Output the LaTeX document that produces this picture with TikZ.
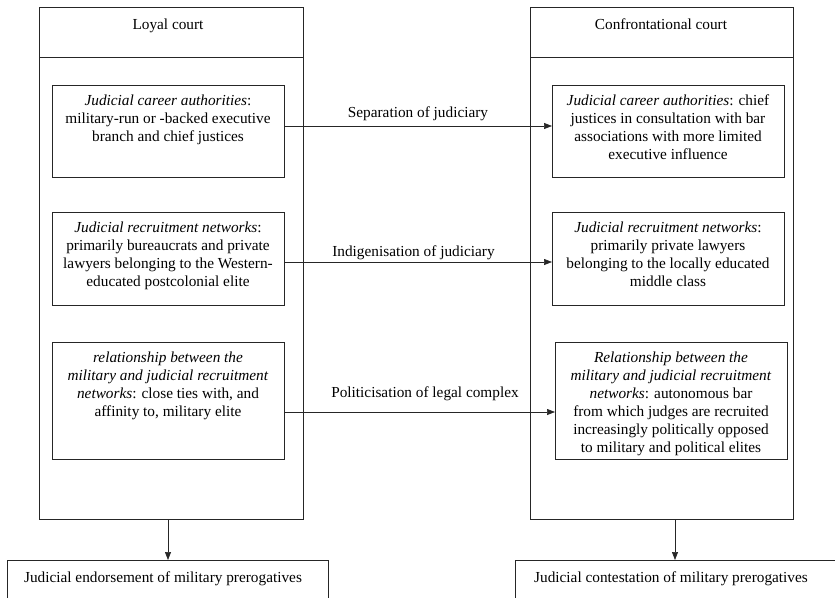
\documentclass[tikz,border=0pt]{standalone}
\usepackage{fontspec}
\setmainfont{Liberation Serif}
\newfontfamily\timesfont{Liberation Serif}
\usetikzlibrary{arrows.meta,fit}
\begin{document}
\begin{tikzpicture}[x=1pt,y=-1pt,
  box/.style={draw=black!85, line width=0.7pt, inner sep=0pt, outer sep=0pt},
  txt/.style={align=center, font=\timesfont\fontsize{15.3}{18}\selectfont, inner sep=0pt},
  lbl/.style={font=\timesfont\fontsize{15.3}{18}\selectfont, inner sep=0pt},
  arr/.style={draw=black!85, line width=0.7pt, -{Triangle[length=8pt,width=6pt]}}]
\useasboundingbox (0,0) rectangle (835,597);
% big boxes
\node[box, fit={(39,7) (303,519)}] (L) {};
\node[box, fit={(39,7) (303,57)}] (Lh) {};
\node[box, fit={(530,7) (793,519)}] (R) {};
\node[box, fit={(530,7) (793,57)}] (Rh) {};
\node[lbl, anchor=base] (Lht) at (168,29) {Loyal court};
\node[lbl, anchor=base] (Rht) at (661,29) {Confrontational court};
% left inner boxes
\node[box, fit={(52,85) (284,177)}] (L1) {};
\node[box, line width=1pt, fit={(52,212) (284,305)}] (L2) {};
\node[box, fit={(52,342) (284,459)}] (L3) {};
% right inner boxes
\node[box, fit={(552,85) (784,177)}] (R1) {};
\node[box, fit={(552,212) (784,305)}] (R2) {};
\node[box, fit={(555,342) (787,459)}] (R3) {};
% texts
\node[txt, anchor=north] (L1t) at ([yshift=-10pt]L1.north) {\textit{Judicial career authorities}:\\ military-run or -backed executive\\ branch and chief justices};
\node[txt, anchor=north] (L2t) at ([yshift=-10pt]L2.north) {\textit{Judicial recruitment networks}:\\ primarily bureaucrats and private\\ lawyers belonging to the Western-\\ educated postcolonial elite};
\node[txt, anchor=north] (L3t) at ([yshift=-10pt]L3.north) {\textit{relationship between the}\\ \textit{military and judicial recruitment}\\ \textit{networks}: close ties with, and\\ affinity to, military elite};
\node[txt, anchor=north] (R1t) at ([yshift=-10pt]R1.north) {\textit{Judicial career authorities}: chief\\ justices in consultation with bar\\ associations with more limited\\ executive influence};
\node[txt, anchor=north] (R2t) at ([yshift=-10pt]R2.north) {\textit{Judicial recruitment networks}:\\ primarily private lawyers\\ belonging to the locally educated\\ middle class};
\node[txt, anchor=north] (R3t) at ([yshift=-10pt]R3.north) {\textit{Relationship between the}\\ \textit{military and judicial recruitment}\\ \textit{networks}: autonomous bar\\ from which judges are recruited\\ increasingly politically opposed\\ to military and political elites};
% bottom boxes
\node[box, fit={(7,560) (328,610)}] (LB) {};
\node[box, fit={(515,560) (845,610)}] (RB) {};
\node[lbl, anchor=base] (LBt) at (163,582) {Judicial endorsement of military prerogatives};
\node[lbl, anchor=base] (RBt) at (671,582) {Judicial contestation of military prerogatives};
% connectors
\draw[arr] (L1.east |- 0,126) -- (R1.west |- 0,126);
\draw[arr] (L2.east |- 0,262) -- (R2.west |- 0,262);
\draw[arr] (L3.east |- 0,412) -- (R3.west |- 0,412);
\node[lbl, anchor=base] (a1) at (418,117) {Separation of judiciary};
\node[lbl, anchor=base] (a2) at (413.5,256) {Indigenisation of judiciary};
\node[lbl, anchor=base] (a3) at (425,397) {Politicisation of legal complex};
\draw[arr] (L.south -| 168,0) -- (LB.north -| 168,0);
\draw[arr] (R.south -| 675,0) -- (RB.north -| 675,0);
\end{tikzpicture}
\end{document}
